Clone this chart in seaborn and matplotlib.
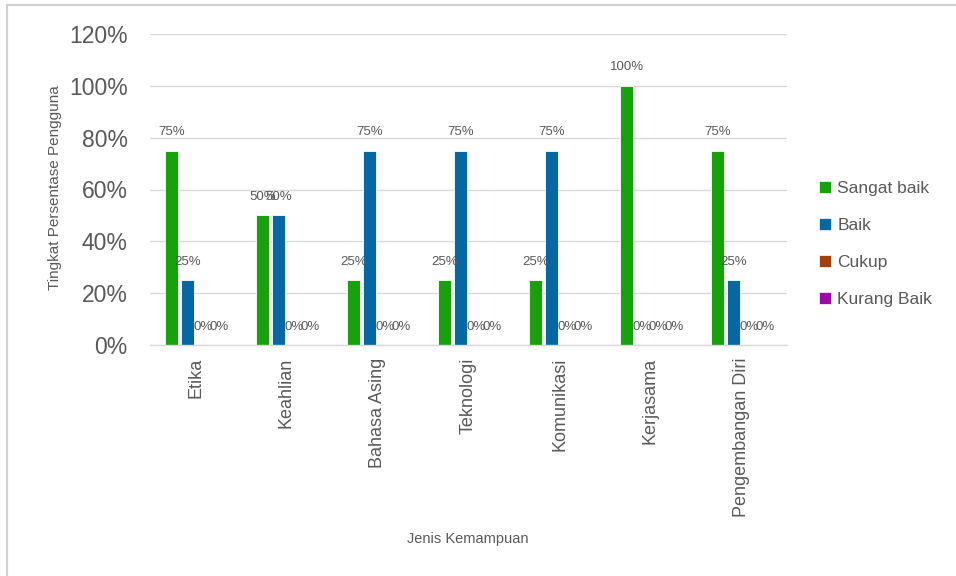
import matplotlib
matplotlib.use("Agg")
import matplotlib.pyplot as plt
import seaborn as sns
import pandas as pd
from matplotlib.patches import Rectangle, Patch
from matplotlib.ticker import PercentFormatter

categories = ["Etika", "Keahlian", "Bahasa Asing", "Teknologi", "Komunikasi", "Kerjasama", "Pengembangan Diri"]
series = ["Sangat baik", "Baik", "Cukup", "Kurang Baik"]
sangat_baik = [0.75, 0.50, 0.25, 0.25, 0.25, 1.00, 0.75]
baik = [0.25, 0.50, 0.75, 0.75, 0.75, 0.00, 0.25]
cukup = [0.00, 0.00, 0.00, 0.00, 0.00, 0.00, 0.00]
kurang_baik = [0.00, 0.00, 0.00, 0.00, 0.00, 0.00, 0.00]
colors = ["#17a10a", "#0567a3", "#a33f0b", "#9b0aa6"]

rows = []
for s, vals in zip(series, [sangat_baik, baik, cukup, kurang_baik]):
    for c, v in zip(categories, vals):
        rows.append({"Jenis Kemampuan": c, "Seri": s, "Nilai": v})
df = pd.DataFrame(rows)

sns.set_theme(style="white")
plt.rcParams["font.family"] = ["Liberation Sans", "DejaVu Sans"]
TXT = "#595959"

fig = plt.figure(figsize=(9.56, 5.76), dpi=100)
ax = fig.add_axes([150/956, 1-345/576, 637/956, 311/576])

sns.barplot(data=df, x="Jenis Kemampuan", y="Nilai", hue="Seri", order=categories,
            hue_order=series, palette=colors, saturation=1, width=0.7, gap=0.2, ax=ax,
            edgecolor="white", linewidth=0.6, legend=False)

for cont in ax.containers:
    labels = [f"{int(round(b.get_height()*100))}%" for b in cont]
    ax.bar_label(cont, labels=labels, padding=9, fontsize=9.5, color=TXT)

ax.set_ylim(0, 1.2)
ax.set_yticks([0, 0.2, 0.4, 0.6, 0.8, 1.0, 1.2])
ax.yaxis.set_major_formatter(PercentFormatter(1.0, decimals=0))
ax.set_xlim(-0.5, 6.5)
ax.grid(axis="y", color="#d9d9d9", linewidth=1)
ax.set_axisbelow(True)
for sp in ["left", "right", "top"]:
    ax.spines[sp].set_visible(False)
ax.spines["bottom"].set_color("#d9d9d9")
ax.spines["bottom"].set_linewidth(1)

ax.tick_params(axis="y", labelsize=16.5, colors=TXT, length=0, pad=16)
ax.tick_params(axis="x", labelsize=13, colors=TXT, length=0, pad=9)
for lab in ax.get_xticklabels():
    lab.set_rotation(90)
    lab.set_va("top")
    lab.set_ha("center")

ax.set_xlabel("Jenis Kemampuan", fontsize=10.5, color=TXT)
ax.set_ylabel("Tingkat Persentase Pengguna", fontsize=11, color=TXT)
ax.xaxis.set_label_coords((468-150)/637, (345-532)/311)
ax.yaxis.set_label_coords((62-150)/637, 0.505)

handles = [Patch(facecolor=c, edgecolor="white", linewidth=0.5) for c in colors]
fig.legend(handles, series, loc="upper left", bbox_to_anchor=(812/956, 1-174/576),
           frameon=False, fontsize=12.5, labelcolor=TXT, handlelength=0.7,
           handleheight=0.7, handletextpad=0.35, labelspacing=1.25, borderaxespad=0)

fig.patches.append(Rectangle((7/956, -0.1), 1.2, 1-5/576+0.1, transform=fig.transFigure,
                             fill=False, edgecolor="#d0d0d0", linewidth=1.5))

fig.savefig("out.png", dpi=100)
